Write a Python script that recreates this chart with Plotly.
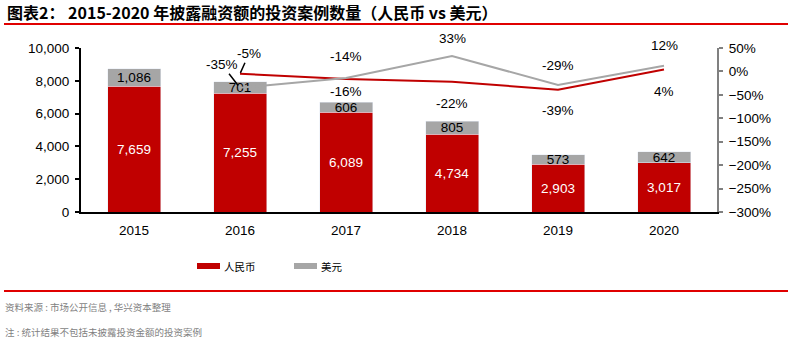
import plotly.graph_objects as go

years = ["2015", "2016", "2017", "2018", "2019", "2020"]
rmb_counts = [7659, 7255, 6089, 4734, 2903, 3017]
usd_counts = [1086, 701, 606, 805, 573, 642]
rmb_growth = [None, -5, -16, -22, -39, 4]
usd_growth = [None, -35, -14, 33, -29, 12]

RED = "#C00000"
GRAY = "#A6A6A6"
NUM_FONT = "Arial, Liberation Sans, sans-serif"
CJK_FONT = "Microsoft YaHei, Noto Sans CJK SC, sans-serif"

# plot area in pixels
L, R, T, B = 81, 717, 48, 212
W, H = 792, 344


def px(x):
    return (x - L) / (R - L)


def py(y):
    return (B - y) / (B - T)


fig = go.Figure()

fig.add_trace(go.Bar(
    x=years, y=rmb_counts, name="人民币", marker_color=RED,
    text=[f"{v:,}" for v in rmb_counts], textposition="inside",
    insidetextanchor="middle", textangle=0, constraintext="none",
    textfont=dict(color="white", size=13.5, family=NUM_FONT),
    showlegend=False, hoverinfo="skip",
))
fig.add_trace(go.Bar(
    x=years, y=usd_counts, name="美元", marker_color=GRAY,
    text=[f"{v:,}" for v in usd_counts], textposition="inside",
    insidetextanchor="middle", textangle=0, constraintext="none",
    textfont=dict(color="black", size=13.5, family=NUM_FONT),
    showlegend=False, hoverinfo="skip",
))
fig.add_trace(go.Scatter(
    x=years, y=rmb_growth, yaxis="y2", mode="lines",
    line=dict(color=RED, width=2), showlegend=False, hoverinfo="skip",
))
fig.add_trace(go.Scatter(
    x=years, y=usd_growth, yaxis="y2", mode="lines",
    line=dict(color=GRAY, width=2), showlegend=False, hoverinfo="skip",
))

annotations = []
# growth labels (x given as category index)
usd_shift = [None, None, 21, 17, 20, 20]
rmb_shift = [None, None, -13, -22, -21, -22]
for i in range(len(years)):
    if usd_shift[i] is not None:
        annotations.append(dict(x=i, y=usd_growth[i], xref="x", yref="y2",
                                text=f"{usd_growth[i]}%", showarrow=False,
                                yshift=usd_shift[i],
                                font=dict(size=13.5, family=NUM_FONT, color="black")))
    if rmb_shift[i] is not None:
        annotations.append(dict(x=i, y=rmb_growth[i], xref="x", yref="y2",
                                text=f"{rmb_growth[i]}%", showarrow=False,
                                yshift=rmb_shift[i],
                                font=dict(size=13.5, family=NUM_FONT, color="black")))
# 2016 labels with leader lines
annotations.append(dict(x=1, y=usd_growth[1], xref="x", yref="y2",
                        text=f"{usd_growth[1]}%", showarrow=True, arrowhead=0,
                        arrowwidth=1.5, arrowcolor="black", ax=-18, ay=-23,
                        standoff=3,
                        font=dict(size=13.5, family=NUM_FONT, color="black")))
annotations.append(dict(x=1, y=rmb_growth[1], xref="x", yref="y2",
                        text=f"{rmb_growth[1]}%", showarrow=True, arrowhead=0,
                        arrowwidth=1.5, arrowcolor="black", ax=9, ay=-20,
                        standoff=1,
                        font=dict(size=13.5, family=NUM_FONT, color="black")))

# title
annotations.append(dict(xref="paper", yref="paper", x=px(5), y=py(12),
                        xanchor="left", yanchor="middle", showarrow=False,
                        text="<b>图表2： 2015-2020 年披露融资额的投资案例数量（人民币 vs 美元）</b>",
                        font=dict(size=16, family=CJK_FONT, color="black")))
# footnotes
annotations.append(dict(xref="paper", yref="paper", x=px(3), y=py(307),
                        xanchor="left", yanchor="middle", showarrow=False,
                        text="资料来源 : 市场公开信息 , 华兴资本整理",
                        font=dict(size=9.5, family=CJK_FONT, color="#7F7F7F")))
annotations.append(dict(xref="paper", yref="paper", x=px(3), y=py(332),
                        xanchor="left", yanchor="middle", showarrow=False,
                        text="注 : 统计结果不包括未披露投资金额的投资案例",
                        font=dict(size=9.5, family=CJK_FONT, color="#7F7F7F")))
# legend text
annotations.append(dict(xref="paper", yref="paper", x=px(222), y=py(266),
                        xanchor="left", yanchor="middle", showarrow=False,
                        text="人民币", font=dict(size=10.5, family=CJK_FONT, color="black")))
annotations.append(dict(xref="paper", yref="paper", x=px(319), y=py(266),
                        xanchor="left", yanchor="middle", showarrow=False,
                        text="美元", font=dict(size=10.5, family=CJK_FONT, color="black")))

shapes = [
    dict(type="line", xref="paper", yref="paper", x0=px(4), x1=px(788),
         y0=py(24), y1=py(24), line=dict(color="#E00000", width=2)),
    dict(type="line", xref="paper", yref="paper", x0=px(4), x1=px(788),
         y0=py(291), y1=py(291), line=dict(color="#E00000", width=2)),
    dict(type="rect", xref="paper", yref="paper", x0=px(197), x1=px(220),
         y0=py(269), y1=py(263), fillcolor=RED, line=dict(width=0)),
    dict(type="rect", xref="paper", yref="paper", x0=px(294), x1=px(317),
         y0=py(269), y1=py(263), fillcolor=GRAY, line=dict(width=0)),
]

fig.update_layout(
    width=W, height=H,
    margin=dict(l=L, r=W - R, t=T, b=H - B, pad=0),
    barmode="stack", bargap=0.5,
    plot_bgcolor="white", paper_bgcolor="white",
    font=dict(family=NUM_FONT, size=13, color="black"),
    xaxis=dict(type="category", range=[-0.5, 5.5], showline=True,
               linecolor="black", linewidth=2, ticks="", showgrid=False,
               tickfont=dict(size=13.5), ticklabelstandoff=5),
    yaxis=dict(range=[0, 10000], dtick=2000, tickformat=",", showline=True,
               linecolor="black", linewidth=2, ticks="outside", ticklen=4,
               tickcolor="black", tickwidth=1.5, showgrid=False, zeroline=False,
               tickfont=dict(size=13.5), ticklabelstandoff=3),
    yaxis2=dict(range=[-300, 50], dtick=50, ticksuffix="%", overlaying="y",
                side="right", showline=True, linecolor="#808080", linewidth=2,
                ticks="outside", ticklen=4, tickcolor="#808080", tickwidth=1.5,
                showgrid=False, zeroline=False, tickfont=dict(size=13.5),
                ticklabelstandoff=3),
    annotations=annotations, shapes=shapes,
    showlegend=False,
)

fig.write_html("out.html")
